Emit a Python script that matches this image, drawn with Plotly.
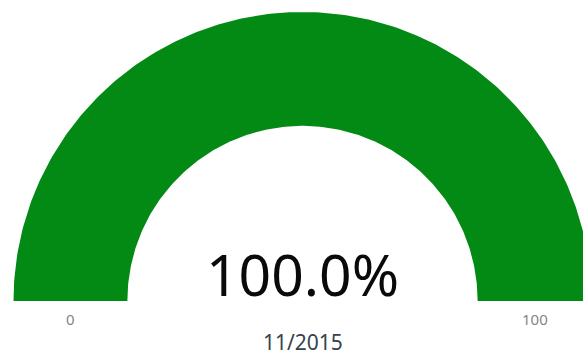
import numpy as np
import plotly.graph_objects as go

# Gauge data
gauge_min = 0
gauge_max = 100
value = 100.0
period_label = "11/2015"
value_text = f"{value:.1f}%"
tick_labels = [str(gauge_min), str(gauge_max)]

# Styling
fill_color = "#038a14"
track_color = "#e6e6e6"
outer_r = 1.0
inner_r = 0.606


def value_to_angle(v):
    frac = (v - gauge_min) / (gauge_max - gauge_min)
    return np.pi * (1.0 - frac)


def band_path(v0, v1, n=240):
    t = np.linspace(value_to_angle(v0), value_to_angle(v1), n)
    xs = np.concatenate([outer_r * np.cos(t), inner_r * np.cos(t[::-1])])
    ys = np.concatenate([outer_r * np.sin(t), inner_r * np.sin(t[::-1])])
    xs = np.append(xs, xs[0])
    ys = np.append(ys, ys[0])
    return xs, ys


fig = go.Figure()

# Background track (remaining part of the range)
tx, ty = band_path(value, gauge_max)
fig.add_trace(go.Scatter(x=tx, y=ty, mode="lines", fill="toself",
                         fillcolor=track_color, line=dict(width=0),
                         hoverinfo="skip", showlegend=False))

# Value band
vx, vy = band_path(gauge_min, value)
fig.add_trace(go.Scatter(x=vx, y=vy, mode="lines", fill="toself",
                         fillcolor=fill_color, line=dict(width=0),
                         hoverinfo="skip", showlegend=False))

mid_r = (outer_r + inner_r) / 2
label_y = -0.062

annotations = [
    dict(x=mid_r * np.cos(value_to_angle(gauge_min)), y=label_y, text=tick_labels[0],
         showarrow=False, xanchor="center", yanchor="middle",
         font=dict(family="Noto Sans", size=15, color="#858585")),
    dict(x=mid_r * np.cos(value_to_angle(gauge_max)), y=label_y, text=tick_labels[1],
         showarrow=False, xanchor="center", yanchor="middle",
         font=dict(family="Noto Sans", size=15, color="#858585")),
    dict(x=0, y=0.093, text=value_text, showarrow=False,
         xanchor="center", yanchor="middle",
         font=dict(family="Noto Sans", size=57, color="#0a0a0a")),
    dict(x=0, y=-0.142, text=period_label, showarrow=False,
         xanchor="center", yanchor="middle",
         font=dict(family="Noto Sans", size=21, color="#38414d")),
]

fig.update_layout(
    width=583, height=358, autosize=False,
    margin=dict(l=0, r=0, t=0, b=0),
    paper_bgcolor="white", plot_bgcolor="white",
    xaxis=dict(range=[-1.0467, 0.9706], visible=False, fixedrange=True),
    yaxis=dict(range=[-0.1972, 1.0415], visible=False, fixedrange=True),
    annotations=annotations,
    showlegend=False,
)

fig.write_html("out.html", config={"displayModeBar": False})
